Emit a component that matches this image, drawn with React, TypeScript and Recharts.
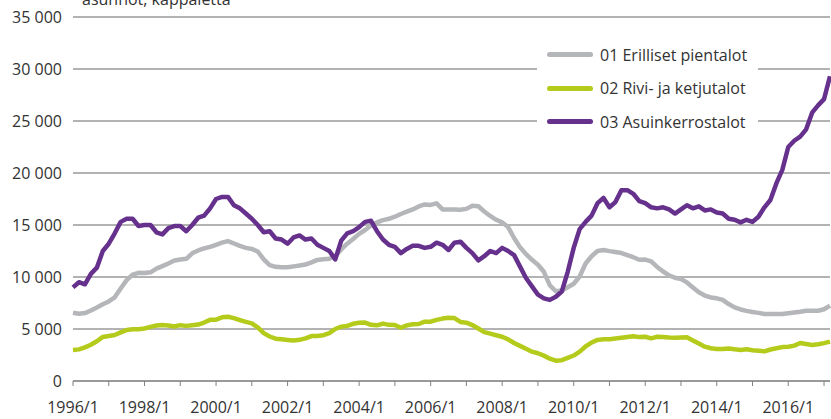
import React from 'react';
import { LineChart, Line, XAxis, YAxis, CartesianGrid, Legend, Customized } from 'recharts';

// month index from 1996/1, one point every 2 months
const months = Array.from({ length: 128 }, (_, i) => i * 2);

const erilliset = [
  6570, 6470, 6530, 6780, 7060, 7370, 7650, 8050, 8900, 9700,
  10230, 10400, 10380, 10450, 10800, 11050, 11300, 11580, 11680, 11750,
  12280, 12550, 12750, 12900, 13100, 13300, 13450, 13220, 12990, 12800,
  12700, 12450, 11700, 11150, 10980, 10930, 10930, 11020, 11100, 11200,
  11400, 11640, 11700, 11750, 12000, 12650, 13200, 13650, 14150, 14520,
  14950, 15250, 15470, 15600, 15800, 16060, 16280, 16500, 16780, 16980,
  16930, 17080, 16500, 16500, 16500, 16470, 16550, 16850, 16800, 16300,
  15870, 15500, 15250, 14800, 13750, 12850, 12200, 11650, 11180, 10500,
  9200, 8630, 8700, 9020, 9350, 10050, 11300, 12000, 12500, 12600,
  12490, 12400, 12300, 12100, 11900, 11660, 11680, 11500, 10970, 10530,
  10160, 9930, 9800, 9480, 9000, 8530, 8220, 8030, 7950, 7800,
  7400, 7080, 6880, 6740, 6630, 6550, 6450, 6440, 6440, 6450,
  6510, 6580, 6660, 6760, 6760, 6760, 6900, 7250,
];

const rivitalot = [
  2980, 3040, 3230, 3480, 3820, 4240, 4320, 4420, 4680, 4900,
  4970, 4970, 5050, 5200, 5330, 5380, 5340, 5240, 5370, 5300,
  5360, 5430, 5620, 5880, 5900, 6120, 6180, 6050, 5860, 5680,
  5540, 5150, 4600, 4280, 4070, 4010, 3950, 3900, 3960, 4100,
  4320, 4330, 4400, 4600, 5000, 5220, 5300, 5500, 5600, 5620,
  5400, 5350, 5520, 5400, 5380, 5120, 5350, 5450, 5480, 5700,
  5700, 5880, 6000, 6080, 6050, 5680, 5610, 5380, 5050, 4700,
  4550, 4400, 4250, 4000, 3650, 3380, 3100, 2820, 2670, 2440,
  2150, 1950, 2000, 2230, 2450, 2820, 3320, 3700, 3950, 4010,
  4020, 4080, 4150, 4230, 4300, 4220, 4250, 4100, 4250, 4220,
  4180, 4160, 4180, 4200, 3900, 3600, 3300, 3150, 3080, 3070,
  3130, 3050, 2990, 3050, 2950, 2900, 2850, 3030, 3150, 3260,
  3300, 3400, 3650, 3560, 3470, 3540, 3640, 3780,
];

const kerrostalot = [
  9000, 9500, 9300, 10300, 10900, 12500, 13200, 14200, 15300, 15600,
  15600, 14900, 15000, 15000, 14300, 14100, 14700, 14900, 14900, 14400,
  15000, 15700, 15900, 16600, 17500, 17700, 17700, 16900, 16600, 16100,
  15600, 15000, 14300, 14400, 13700, 13600, 13200, 13800, 14000, 13600,
  13700, 13100, 12800, 12500, 11700, 13500, 14200, 14400, 14800, 15300,
  15400, 14400, 13600, 13100, 12900, 12300, 12700, 13000, 13000, 12800,
  12900, 13300, 13100, 12600, 13300, 13400, 12800, 12300, 11600, 12000,
  12500, 12300, 12800, 12500, 12100, 11000, 9900, 9100, 8300, 7950,
  7800, 8100, 8600, 10500, 12800, 14600, 15300, 15900, 17100, 17600,
  16700, 17200, 18350, 18350, 18000, 17300, 17100, 16700, 16600, 16700,
  16500, 16100, 16500, 16900, 16600, 16800, 16400, 16500, 16200, 16100,
  15600, 15500, 15250, 15500, 15300, 15800, 16700, 17400, 19000, 20300,
  22500, 23100, 23500, 24200, 25800, 26500, 27100, 29300,
];

const yTicks = [0, 5000, 10000, 15000, 20000, 25000, 30000, 35000];
const xTicks = Array.from({ length: 22 }, (_, i) => i * 12);

const seriesNames = ['01 Erilliset pientalot', '02 Rivi- ja ketjutalot', '03 Asuinkerrostalot'];
const seriesColors = ['#b4b6b9', '#b5cb1b', '#66318d'];

const data = months.map((m, i) => ({
  m,
  erilliset: erilliset[i],
  rivitalot: rivitalot[i],
  kerrostalot: kerrostalot[i],
}));

const font = '"Open Sans", sans-serif';

const fmtY = (v: number) => (v === 0 ? '0' : `${Math.floor(v / 1000)} ${String(v % 1000).padStart(3, '0')}`);
const fmtX = (m: number) => (m % 24 === 0 ? `${1996 + m / 12}/1` : '');

function LegendBox() {
  return (
    <div style={{ background: '#fff', padding: '5px 0 0 10px', width: 221, height: 95, boxSizing: 'border-box' }}>
      {seriesNames.map((name, i) => (
        <div key={name} style={{ display: 'flex', alignItems: 'center', height: 33.5 }}>
          <span style={{ display: 'inline-block', width: 46, height: 5, borderRadius: 2.5, background: seriesColors[i], marginRight: 7 }} />
          <span style={{ fontFamily: font, fontSize: 16, color: '#333', whiteSpace: 'nowrap' }}>{name}</span>
        </div>
      ))}
    </div>
  );
}

function Title() {
  return (
    <text x={82} y={5} fontFamily={font} fontSize={16} fill="#333">
      asunnot, kappaletta
    </text>
  );
}

export default function App() {
  return (
    <div style={{ position: 'absolute', left: 0, top: 0, background: '#fff' }}>
      <LineChart width={831} height={419} data={data} margin={{ top: 17, right: 1, left: 0, bottom: 0 }}>
        <CartesianGrid vertical={false} stroke="#666" strokeWidth={1} />
        <XAxis
          dataKey="m"
          type="number"
          domain={[0, 254]}
          ticks={xTicks}
          tickFormatter={fmtX}
          interval={0}
          height={38}
          tickSize={5}
          tickMargin={16}
          axisLine={{ stroke: '#808080' }}
          tickLine={{ stroke: '#808080' }}
          tick={{ fontFamily: font, fontSize: 16, fill: '#333' }}
        />
        <YAxis
          domain={[0, 35000]}
          ticks={yTicks}
          tickFormatter={fmtY}
          width={73}
          axisLine={false}
          tickLine={false}
          tickSize={6}
          tickMargin={5}
          tick={{ fontFamily: font, fontSize: 16, fill: '#333' }}
        />
        <Legend
          layout="vertical"
          align="center"
          verticalAlign="middle"
          wrapperStyle={{ left: 537, top: 33, width: 221 }}
          content={() => <LegendBox />}
        />
        <Line type="linear" dataKey="erilliset" name={seriesNames[0]} stroke={seriesColors[0]} strokeWidth={4.5} dot={false} isAnimationActive={false} strokeLinejoin="round" />
        <Line type="linear" dataKey="rivitalot" name={seriesNames[1]} stroke={seriesColors[1]} strokeWidth={4.5} dot={false} isAnimationActive={false} strokeLinejoin="round" />
        <Line type="linear" dataKey="kerrostalot" name={seriesNames[2]} stroke={seriesColors[2]} strokeWidth={4.5} dot={false} isAnimationActive={false} strokeLinejoin="round" />
        <Customized component={Title} />
      </LineChart>
    </div>
  );
}
